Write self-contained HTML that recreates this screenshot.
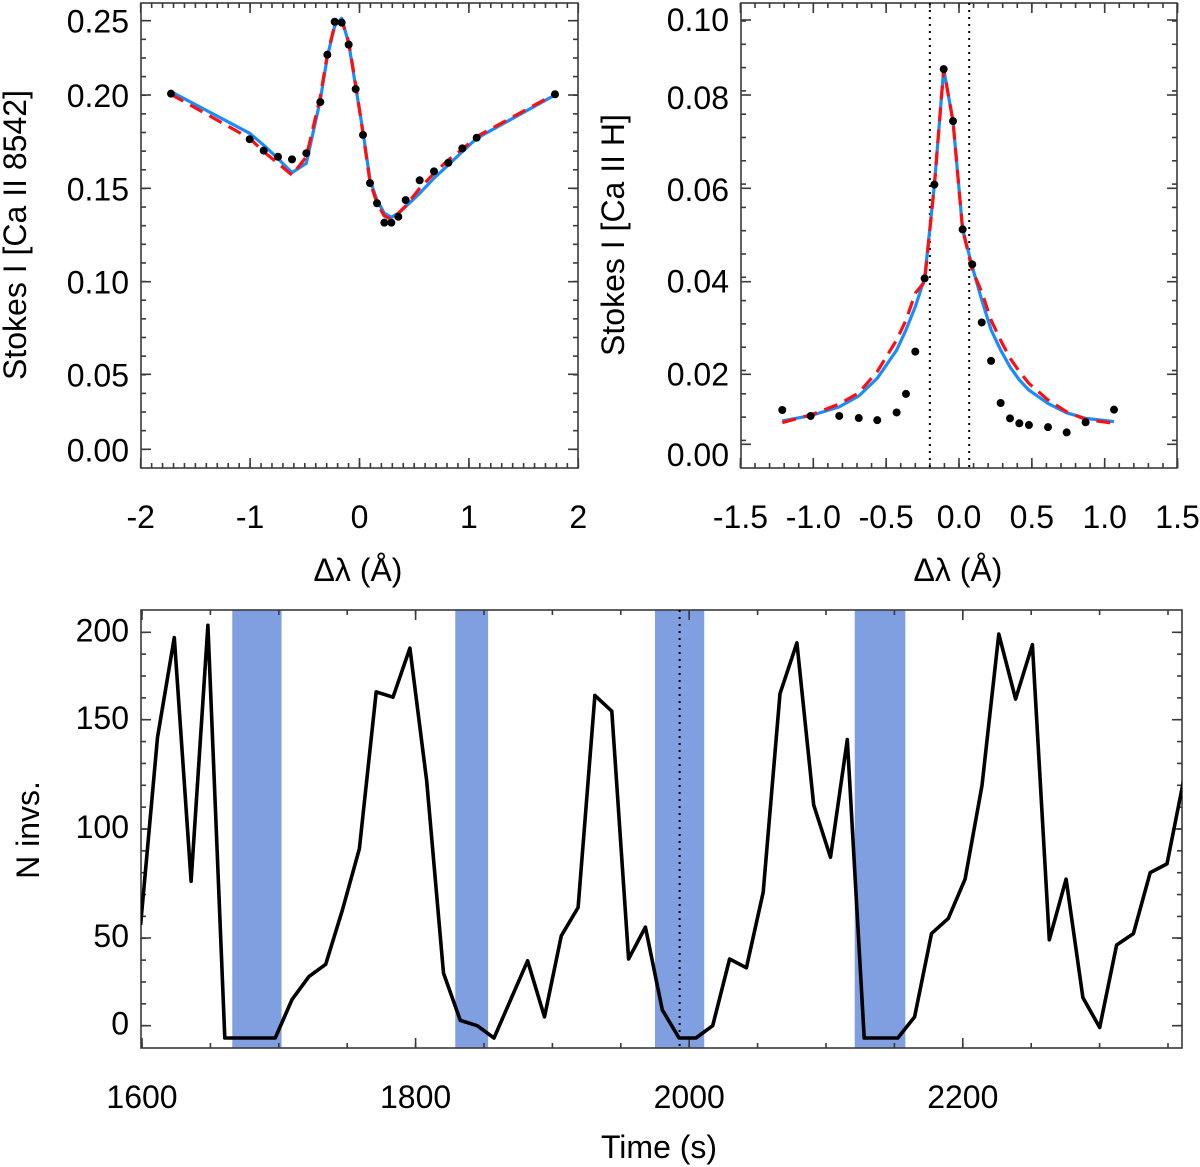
<!DOCTYPE html>
<html><head><meta charset="utf-8">
<style>
html,body{margin:0;padding:0;background:#fff;}
svg{display:block;font-family:"Liberation Sans",sans-serif;}
text{fill:#000;}
</style></head>
<body>
<svg id="fig" width="1200" height="1167" viewBox="0 0 1200 1167" xmlns="http://www.w3.org/2000/svg">
<defs>
<clipPath id="clipA"><rect x="141" y="3" width="437" height="465"/></clipPath>
<clipPath id="clipB"><rect x="741" y="3" width="436" height="465"/></clipPath>
<clipPath id="clipC"><rect x="141" y="610" width="1041" height="438"/></clipPath>
</defs>
</svg>
<script>
// ---------- Panel A data (Ca II 8542) ----------
const aLam = [-1.723,-1.004,-0.876,-0.745,-0.617,-0.486,-0.358,-0.294,-0.227,-0.163,-0.099,-0.035,0.032,0.096,0.160,0.227,0.291,0.355,0.422,0.550,0.681,0.812,0.940,1.071,1.787];
const aObs = [0.2009,0.1763,0.1702,0.1669,0.1655,0.1688,0.1962,0.2271,0.2493,0.2487,0.2339,0.2040,0.1786,0.1528,0.1420,0.1316,0.1316,0.1348,0.1437,0.1543,0.1591,0.1637,0.1714,0.1771,0.2005];
const aBlue = [0.2022,0.1795,0.1731,0.1659,0.1584,0.1634,0.1973,0.2258,0.2464,0.2516,0.2347,0.2056,0.1804,0.1544,0.1437,0.1366,0.1345,0.1366,0.1402,0.1473,0.1554,0.1625,0.1696,0.1768,0.2000];
const aRed = [0.2005,0.1768,0.1696,0.1634,0.1571,0.1669,0.1991,0.2269,0.2471,0.2500,0.2359,0.2067,0.1795,0.1535,0.1420,0.1352,0.1334,0.1366,0.1405,0.1500,0.1580,0.1652,0.1709,0.1777,0.2007];
const aYTicks = [0.00,0.05,0.10,0.15,0.20,0.25];
const aYTickLabels = ["0.00","0.05","0.10","0.15","0.20","0.25"];
const aXTicks = [-2,-1,0,1,2];
const aXTickLabels = ["-2","-1","0","1","2"];

// ---------- Panel B data (Ca II H) ----------
const bLamObs = [-1.213,-1.018,-0.822,-0.688,-0.561,-0.428,-0.364,-0.300,-0.236,-0.169,-0.105,-0.041,0.025,0.091,0.156,0.220,0.286,0.350,0.414,0.480,0.611,0.739,0.869,1.064];
const bObs = [0.0098,0.0081,0.0081,0.0075,0.0069,0.0091,0.0144,0.0249,0.0407,0.0608,0.0869,0.0744,0.0512,0.0437,0.0312,0.0229,0.0118,0.0074,0.0060,0.0055,0.0049,0.0034,0.0063,0.0099];
const bLamFit = [-1.213,-1.018,-0.822,-0.688,-0.561,-0.428,-0.364,-0.300,-0.236,-0.169,-0.105,-0.041,0.025,0.091,0.156,0.220,0.286,0.350,0.414,0.480,0.611,0.739,0.869,1.064];
const bBlue = [0.0067,0.0082,0.0107,0.0138,0.0189,0.0252,0.0296,0.0346,0.0407,0.0607,0.0869,0.0744,0.0512,0.0432,0.0361,0.0296,0.0252,0.0216,0.0184,0.0155,0.0117,0.0090,0.0074,0.0065];
const bRed = [0.0062,0.0084,0.0115,0.0147,0.0206,0.0274,0.0317,0.0375,0.0400,0.0607,0.0869,0.0744,0.0512,0.0425,0.0378,0.0317,0.0273,0.0235,0.0206,0.0174,0.0127,0.0093,0.0071,0.0060];
const bVLines = [-0.20,0.07];
const bYTicks = [0.00,0.02,0.04,0.06,0.08,0.10];
const bYTickLabels = ["0.00","0.02","0.04","0.06","0.08","0.10"];
const bXTicks = [-1.5,-1.0,-0.5,0.0,0.5,1.0,1.5];
const bXTickLabels = ["-1.5","-1.0","-0.5","0.0","0.5","1.0","1.5"];

// ---------- Panel C data (N inversions vs time) ----------
const cT0 = 1599;
const cStep = 12.3;
const cN = [56,142,197,76,204,-7,-7,-7,-7,15,28,35,63,91,166,163,191,122,30,3,0,-7,15,37,5,51,64,164,155,38,55,9,-7,-7,0,38,33,71,165,194,111,87,141,-7,-7,-7,5,52,59,77,120,199,162,193,49,77,16,-1,46,52,80,84,123];
const cBandStart = [1666,1829,1975,2121];
const cBandEnd = [1702,1853,2011,2158];
const cVLine = [1993];
const cYTicks = [0,50,100,150,200];
const cYTickLabels = ["0","50","100","150","200"];
const cXTicks = [1600,1800,2000,2200];
const cXTickLabels = ["1600","1800","2000","2200"];

const NS = "http://www.w3.org/2000/svg";
const svg = document.getElementById('fig');
function mk(tag, attrs, parent){
  const e = document.createElementNS(NS, tag);
  for (const k in attrs) e.setAttribute(k, attrs[k]);
  (parent||svg).appendChild(e);
  return e;
}
function pw(vals, pix){
  return function(v){
    let i = 0;
    if (v <= vals[0]) i = 0;
    else if (v >= vals[vals.length-1]) i = vals.length-2;
    else { while (i < vals.length-2 && v > vals[i+1]) i++; }
    const t = (v - vals[i])/(vals[i+1]-vals[i]);
    return pix[i] + t*(pix[i+1]-pix[i]);
  };
}
function lin(v0,p0,v1,p1){ return v => p0 + (v-v0)*(p1-p0)/(v1-v0); }

const axA = {x: lin(-2,140.7,2,578.3), y: pw(aYTicks,[449.3,374.3,281.7,188.3,95,20.7]), L:141,R:578,T:3,B:468};
const axB = {x: lin(0,959,1,1104.7), y: pw(bYTicks,[444.3,374.3,281.7,188.3,95,20]), L:741,R:1177,T:3,B:468};
const axC = {x: lin(1600,142,2200,962.8), y: pw(cYTicks,[1025.7,938,829,720,632.3]), L:141,R:1182,T:610,B:1048};

function frame(ax, name, minorX, minorY, majorX, majorY){
  const g = mk('g',{});
  
  
  const st = {stroke:'#3a3a3a','stroke-width':1.6,fill:'none'};
  mk('rect',Object.assign({x:ax.L,y:ax.T,width:ax.R-ax.L,height:ax.B-ax.T},st),g);
  minorX.forEach(p=>{ mk('line',Object.assign({x1:p,x2:p,y1:ax.B,y2:ax.B-5},st),g); mk('line',Object.assign({x1:p,x2:p,y1:ax.T,y2:ax.T+5},st),g); });
  majorX.forEach(p=>{ mk('line',Object.assign({x1:p,x2:p,y1:ax.B,y2:ax.B-10},st),g); mk('line',Object.assign({x1:p,x2:p,y1:ax.T,y2:ax.T+10},st),g); });
  minorY.forEach(p=>{ mk('line',Object.assign({y1:p,y2:p,x1:ax.L,x2:ax.L+5},st),g); mk('line',Object.assign({y1:p,y2:p,x1:ax.R,x2:ax.R-5},st),g); });
  majorY.forEach(p=>{ mk('line',Object.assign({y1:p,y2:p,x1:ax.L,x2:ax.L+10},st),g); mk('line',Object.assign({y1:p,y2:p,x1:ax.R,x2:ax.R-10},st),g); });
}
function range(a,b,s){ const r=[]; for(let v=a; v<=b+1e-9; v+=s) r.push(v); return r; }
function text(str, x, y, name, opts){
  const t = mk('text', Object.assign({x:x,y:y,'font-size':32,'text-anchor':'middle','dominant-baseline':'central'}, opts||{}));
  t.textContent = str;
  
  
  return t;
}
function path(xs, ys, ax, style, name, clip){
  let d = '';
  xs.forEach((v,i)=>{ d += (i?'L':'M') + ax.x(v).toFixed(1) + ',' + ax.y(ys[i]).toFixed(1); });
  const p = mk('path', Object.assign({d:d, fill:'none','stroke-linejoin':'round'}, style));
  if (clip) p.setAttribute('clip-path','url(#'+clip+')');
  
  
  return p;
}
function dots(xs, ys, ax, name){
  const g = mk('g',{});
  
  
  xs.forEach((v,i)=>{
    const c = mk('circle',{cx:ax.x(v),cy:ax.y(ys[i]),r:4,fill:'#000'},g);
    
    
  });
}

// ---------- Panel A ----------
frame(axA,'panel-ca8542',
  range(-2,2,0.1).map(axA.x), range(0,23,1).map(i=>20.7+i*18.635),
  aXTicks.map(axA.x), aYTicks.map(axA.y));
path(aLam, aBlue, axA, {stroke:'#1a8cff','stroke-width':3.2}, 'ca8542-fit-blue', 'clipA');
path(aLam, aRed, axA, {stroke:'#ff1010','stroke-width':3.2,'stroke-dasharray':'14,8'}, 'ca8542-fit-red-dashed', 'clipA');
dots(aLam, aObs, axA, 'ca8542-observed');
aYTicks.forEach((v,i)=> text(aYTickLabels[i], 129, axA.y(v)+1, 'ca8542-y-tick-label', {'text-anchor':'end'}));
aXTicks.forEach((v,i)=> text(aXTickLabels[i], axA.x(v), 517, 'ca8542-x-tick-label'));
text('Δλ (Å)', 358, 570, 'ca8542-x-axis-title');
text('Stokes I [Ca II 8542]', 15, 235, 'ca8542-y-axis-title', {transform:'rotate(-90 15 235)'});

// ---------- Panel B ----------
frame(axB,'panel-cah',
  range(-1.5,1.5,0.1).map(axB.x), range(0,19,1).map(i=>21+i*23.3).filter(p=>p<=446),
  bXTicks.map(axB.x), bYTicks.map(axB.y));
bVLines.forEach(v=>{
  const l = mk('line',{x1:axB.x(v),x2:axB.x(v),y1:axB.T,y2:axB.B,stroke:'#000','stroke-width':2,'stroke-dasharray':'2,5'});
  
  
});
path(bLamFit, bBlue, axB, {stroke:'#1a8cff','stroke-width':3.2}, 'cah-fit-blue', 'clipB');
path(bLamFit, bRed, axB, {stroke:'#ff1010','stroke-width':3.2,'stroke-dasharray':'14,8'}, 'cah-fit-red-dashed', 'clipB');
dots(bLamObs, bObs, axB, 'cah-observed');
const bLabY = [455,374.3,281.7,190,98,20];
bYTicks.forEach((v,i)=> text(bYTickLabels[i], 729, bLabY[i], 'cah-y-tick-label', {'text-anchor':'end'}));
bXTicks.forEach((v,i)=> text(bXTickLabels[i], axB.x(v), 517, 'cah-x-tick-label'));
text('Δλ (Å)', 958, 570, 'cah-x-axis-title');
text('Stokes I [Ca II H]', 613, 235, 'cah-y-axis-title', {transform:'rotate(-90 613 235)'});

// ---------- Panel C ----------
cBandStart.forEach((s,i)=>{
  const r = mk('rect',{x:axC.x(s),y:axC.T,width:axC.x(cBandEnd[i])-axC.x(s),height:axC.B-axC.T,fill:'#7f9fe0'});
  
  
});
frame(axC,'panel-ninv',
  range(1600,2350,50).map(axC.x), range(0,18,1).map(i=>632.3+i*21.855),
  cXTicks.map(axC.x), [632.3,719.7,829,938,1025.7]);
cVLine.forEach(v=>{
  const l = mk('line',{x1:axC.x(v),x2:axC.x(v),y1:axC.T,y2:axC.B,stroke:'#000','stroke-width':2,'stroke-dasharray':'2,5'});
  
  
});
const cT = cN.map((_,i)=> cT0 + i*cStep);
path(cT, cN, axC, {stroke:'#000','stroke-width':3.6}, 'ninv-series-line', 'clipC');
cYTicks.forEach((v,i)=> text(cYTickLabels[i], 129, axC.y(v)-2, 'ninv-y-tick-label', {'text-anchor':'end'}));
cXTicks.forEach((v,i)=> text(cXTickLabels[i], axC.x(v), 1097, 'ninv-x-tick-label'));
text('Time (s)', 659, 1147, 'ninv-x-axis-title');
text('N invs.', 28, 830, 'ninv-y-axis-title', {transform:'rotate(-90 28 830)'});
</script>
</body></html>
